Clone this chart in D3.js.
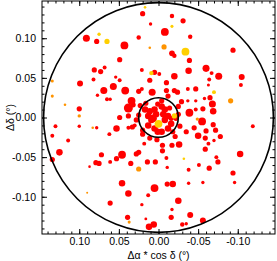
<!DOCTYPE html>
<html>
<head>
<meta charset="utf-8">
<script src="https://cdn.jsdelivr.net/npm/d3@7"></script>
<style>
  body { margin: 0; background: #fff; }
  svg { display: block; font-family: "Liberation Sans", Arial, Helvetica, sans-serif; }
  .axis path { display: none; }
  .axis line { stroke: #000; stroke-width: 1; }
  .axis text { font-size: 10.5px; fill: #000; }
</style>
</head>
<body>
<svg width="277" height="261"></svg>
<script>
// offsets in degrees: [dRA*cos(dec), dDec, weight]
var redStars = [
  [0.091,0.100,7.3],[0.078,0.096,4],[0.043,0.091,9],[0.049,0.073,4],[0.081,0.060,4],
  [0.068,0.063,2.3],[0.073,0.058,4],[0.054,0.051,1.7],[0.099,0.043,5.3],[0.082,0.048,2.3],
  [0.049,0.047,2.3],[0.057,0.039,7.3],[0.042,0.034,9],[0.069,0.034,7.3],[0.077,0.028,1.7],
  [0.065,0.023,2.3],[0.061,0.023,1.7],[0.034,0.021,9],[0.038,0.012,12],[0.100,0.011,4],
  [0.049,0.000,4],[0.100,-0.011,1.7],[0.078,-0.013,1.7],[0.053,-0.014,6.3],[0.025,0.101,2.9],
  [0.020,0.131,4],[-0.017,0.128,2.9],[0.010,0.118,1.7],[-0.031,0.122,4],[-0.008,0.108,9],
  [-0.040,0.102,2.9],[-0.017,0.081,4.8],[-0.020,0.078,2.9],[-0.039,0.072,4],[-0.094,0.085,4],
  [0.021,0.060,2.3],[0.005,0.057,4],[-0.001,0.055,2.3],[-0.038,0.059,6.3],[-0.060,0.062,7.3],
  [-0.067,0.056,2.3],[-0.076,0.052,7.3],[-0.064,0.048,2.3],[-0.105,0.051,5.3],[-0.104,0.041,2.3],
  [0.011,0.047,4],[-0.020,0.052,6.3],[-0.010,0.044,4],[-0.037,0.036,2.3],[-0.047,0.036,4],
  [-0.063,0.041,1.4],[0.021,0.036,2.3],[0.008,0.032,7.3],[-0.010,0.034,4],[-0.020,0.034,4],
  [-0.024,0.032,4],[-0.029,0.020,4],[-0.037,0.021,1.7],[-0.047,0.021,1.7],[-0.058,0.024,1.7],
  [-0.065,0.025,4],[-0.068,0.017,7.3],[-0.069,0.008,6.3],[-0.056,0.011,4],[-0.047,0.010,2.3],
  [-0.039,0.006,9],[-0.055,-0.005,9],[-0.069,-0.009,4],[-0.119,-0.011,2.3],[0.025,0.003,4],
  [-0.103,-0.046,6.3],[-0.094,-0.070,4],[-0.096,-0.082,1.7],[0.020,-0.021,4],[0.018,-0.033,2.3],
  [0.025,-0.044,4],[0.002,-0.028,4],[-0.005,-0.035,4],[-0.017,-0.035,4],[-0.026,-0.034,6.3],
  [-0.005,-0.042,4],[-0.010,-0.051,2.3],[0.014,-0.056,4],[-0.011,-0.063,1.7],[-0.050,-0.023,6.3],
  [-0.059,-0.026,4],[-0.063,-0.033,2.3],[-0.059,-0.040,4],[-0.070,-0.029,1.7],[-0.078,-0.024,4],
  [-0.072,-0.016,4],[-0.075,-0.056,4],[-0.073,-0.050,2.3],[-0.051,-0.060,2.3],[-0.064,-0.064,4],
  [-0.038,-0.066,2.3],[0.005,-0.089,9],[-0.011,-0.084,4],[-0.018,-0.084,6.3],[0.013,-0.098,2.3],
  [-0.038,-0.083,1.7],[-0.056,-0.082,1.7],[-0.025,-0.105,6.3],[-0.017,-0.116,1.7],[0.021,-0.110,1.7],
  [-0.016,-0.126,4],[-0.040,-0.123,5.3],[-0.056,-0.130,5.3],[-0.030,-0.135,2.9],[-0.035,-0.134,1.7],
  [0.012,-0.138,6.3],[0.016,-0.128,1.2],[0.061,-0.108,4],[0.039,-0.126,4],[0.006,-0.135,6.3],
  [0.134,-0.023,2.3],[0.114,-0.029,2.3],[0.125,-0.044,6.3],[0.134,-0.053,4],[0.072,-0.047,4],
  [0.062,-0.021,2.3],[0.046,-0.047,9],[0.053,-0.052,4],[0.061,-0.056,2.3],[0.079,-0.057,4],
  [0.075,-0.058,4],[0.087,-0.062,1],[0.028,-0.046,4],[0.035,-0.058,4],[0.046,-0.083,6.3],
  [0.038,-0.096,6.3],[0.130,-0.011,2.3],[0.025,0.033,4],[0.032,0.016,4],[0.038,0.002,4],
  [0.017,0.010,6.3],[0.011,0.008,6.3],[0.005,0.010,6.3],[0.013,0.002,6.3],[0.007,-0.001,9],
  [0.003,0.004,6.3],[-0.012,0.027,4],[-0.004,0.021,4],[-0.025,0.014,4],[-0.004,0.014,6.3],
  [-0.008,0.010,6.3],[-0.014,0.012,4],[-0.006,0.004,6.3],[-0.012,0.002,6.3],[-0.025,0.004,4],
  [-0.016,-0.001,4],[0.009,-0.003,6.3],[0.013,-0.010,6.3],[0.005,-0.014,6.3],[0.001,-0.018,6.3],
  [0.020,-0.016,4],[0.030,-0.010,2.3],[-0.008,-0.003,6.3],[-0.016,-0.008,6.3],[-0.012,-0.014,6.3],
  [-0.004,-0.018,6.3],[-0.018,-0.018,4],[-0.022,-0.001,4],[-0.045,-0.013,4],[-0.035,-0.018,4],
  [0.028,-0.003,4],[0.033,-0.012,4],[0.038,-0.013,2.3],[-0.060,-0.017,4],[0.004,-0.056,4],
  [0.016,0.018,4],[0.001,0.017,4],[0.023,0.015,4],[-0.027,-0.011,4],[-0.021,-0.024,4],
  [0.011,-0.026,4]
];
var orangeStars = [
  [0.134,0.027,1.4],[0.134,0.046,1.4],[0.118,0.016,1],[0.100,0.002,1.7],[0.083,-0.013,1],
  [-0.007,0.089,4],[0.011,0.088,1],[-0.091,0.021,4],[-0.049,-0.002,1.7],[0.025,-0.065,4],
  [0.037,-0.132,1.4],[0.090,-0.095,0.6]
];
var yellowStars = [
  [0.075,0.105,1.7],[0.065,0.096,4],[0.017,0.139,1],[-0.017,0.115,1.4],[-0.034,0.083,9],
  [0.009,0.056,2.9],[-0.070,0.032,2.3],[-0.032,-0.052,1],[-0.020,0.002,4],[0.000,-0.008,9]
];
var circleRadii = [0.145, 0.025];
var majorTicks = [0.10, 0.05, 0.00, -0.05, -0.10];

var svg = d3.select("svg");
var margin = {left: 42, top: 1, right: 2, bottom: 27},
    width = 277 - margin.left - margin.right,
    height = 261 - margin.top - margin.bottom;
var lim = 0.147;

var x = d3.scaleLinear().domain([lim, -lim]).range([0, width]);
var y = d3.scaleLinear().domain([-lim, lim]).range([height, 0]);
var r = d3.scaleSqrt().domain([0, 16]).range([0, 5.2]);

var g = svg.append("g").attr("transform", "translate(" + margin.left + "," + margin.top + ")");

var minorTicks = d3.range(-14, 15).map(function(d){ return d / 100; });
var fmt = function(d){ return Math.abs(d) < 1e-9 ? "0.00" : d.toFixed(2); };

function addAxis(gen, tr, vals, size, labels, pad){
  var a = g.append("g").attr("class", "axis").attr("transform", tr)
    .call(gen.tickValues(vals).tickSize(size).tickPadding(pad || 6)
      .tickFormat(labels ? fmt : ""));
  return a;
}
addAxis(d3.axisBottom(x), "translate(0," + height + ")", minorTicks, -2.5, false);
addAxis(d3.axisBottom(x), "translate(0," + height + ")", majorTicks, -5, true, 4);
addAxis(d3.axisTop(x), "translate(0,0)", minorTicks, -2.5, false);
addAxis(d3.axisTop(x), "translate(0,0)", majorTicks, -5, false);
addAxis(d3.axisLeft(y), "translate(0,0)", minorTicks, -2.5, false);
addAxis(d3.axisLeft(y), "translate(0,0)", majorTicks, -5, true, 6);
addAxis(d3.axisRight(y), "translate(" + width + ",0)", minorTicks, -2.5, false);
addAxis(d3.axisRight(y), "translate(" + width + ",0)", majorTicks, -5, false);

var plot = g.append("g");

function drawStars(list, color){
  plot.append("g").selectAll("circle")
    .data(list)
    .enter().append("circle")
      .attr("cx", function(d){ return x(d[0]); })
      .attr("cy", function(d){ return y(d[1]); })
      .attr("r", function(d){ return r(d[2]); })
      .attr("fill", color);
}
drawStars(redStars, "#ff0000");
drawStars(orangeStars, "#ff9400");
drawStars(yellowStars, "#ffcf00");

g.append("g").selectAll("circle")
  .data(circleRadii)
  .enter().append("circle")
    .attr("cx", x(0))
    .attr("cy", y(0))
    .attr("r", function(d){ return x(0) - x(d); })
    .attr("fill", "none")
    .attr("stroke", "#000")
    .attr("stroke-width", 1.6);

g.append("rect")
  .attr("width", width).attr("height", height)
  .attr("fill", "none").attr("stroke", "#000").attr("stroke-width", 1);

svg.append("text")
  .attr("x", margin.left + width / 2).attr("y", 259)
  .attr("text-anchor", "middle").attr("font-size", 10.5)
  .text("Δα * cos δ (°)");

svg.append("text")
  .attr("transform", "translate(14," + (margin.top + height / 2) + ") rotate(-90)")
  .attr("text-anchor", "middle").attr("font-size", 10.5)
  .text("Δδ (°)");
</script>
</body>
</html>
